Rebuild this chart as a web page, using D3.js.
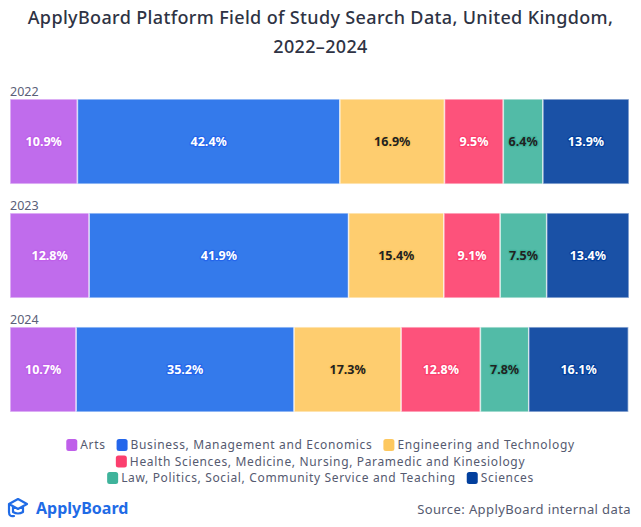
<!DOCTYPE html>
<html><head><meta charset="utf-8">
<script src="https://cdn.jsdelivr.net/npm/d3@7"></script>
<style>
body{margin:0;background:#fff;}
svg{display:block;font-family:"Noto Sans","Open Sans",sans-serif;}
</style></head>
<body><svg id="c" width="641" height="527"></svg>
<script>
const years = ["2022","2023","2024"];
const fields = ["Arts","Business, Management and Economics","Engineering and Technology","Health Sciences, Medicine, Nursing, Paramedic and Kinesiology","Law, Politics, Social, Community Service and Teaching","Sciences"];
const arts =        [10.9, 12.8, 10.7];
const business =    [42.4, 41.9, 35.2];
const engineering = [16.9, 15.4, 17.3];
const health =      [9.5, 9.1, 12.8];
const law =         [6.4, 7.5, 7.8];
const sciences =    [13.9, 13.4, 16.1];
const seriesValues = [arts, business, engineering, health, law, sciences];
const barColors = ["#c06cec","#347aeb","#fecd6f","#fd527b","#52bba7","#1a51a6"];
const legendColors = ["#bf5fea","#2466eb","#fdc85f","#fb3f6e","#3fb39b","#023f9d"];
const labelColors = ["#fff","#fff","#222","#fff","#222","#fff"];

const svg = d3.select("#c");
const W = 641;

[["ApplyBoard Platform Field of Study Search Data, United Kingdom,",24],["2022–2024",53]].forEach(([t,yy])=>{
  svg.append("text").attr("x", W/2).attr("y", yy).attr("text-anchor","middle")
    .attr("font-size",18).attr("font-weight",500).attr("fill","#2e3344")
    .attr("letter-spacing",0.35).text(t);
});

const x = d3.scaleLinear().domain([0,100]).range([10,629]);
const y = d3.scaleBand().domain(years).range([99,412]).paddingInner(0.254).paddingOuter(0);

const rows = years.map((yr,i)=>{
  let acc = 0;
  return seriesValues.map((s,j)=>{ const v=s[i]; const r={yr, j, x0:acc, x1:acc+v, v}; acc+=v; return r;});
});

const g = svg.append("g");
years.forEach((yr,i)=>{
  g.append("text").attr("x",10).attr("y",y(yr)-3).attr("font-size",12.5).attr("fill","#5a6078").text(yr);
  const gg = g.append("g");
  gg.selectAll("rect").data(rows[i]).join("rect")
    .attr("x",d=>x(d.x0)).attr("y",y(yr))
    .attr("width",d=>Math.max(0,x(Math.min(d.x1,100))-x(d.x0)))
    .attr("height",y.bandwidth())
    .attr("fill",d=>barColors[d.j])
    .attr("stroke","rgba(255,255,255,0.6)").attr("stroke-width",1.5);
  gg.selectAll("text.lbl").data(rows[i]).join("text").attr("class","lbl")
    .attr("x",d=>(x(d.x0)+x(Math.min(d.x1,100)))/2)
    .attr("y",y(yr)+y.bandwidth()/2+4.5)
    .attr("text-anchor","middle").attr("font-size",12.5).attr("font-weight",700)
    .attr("fill",d=>labelColors[d.j])
    .attr("stroke",d=>legendColors[d.j]).attr("stroke-width",2.5).attr("stroke-linejoin","round")
    .attr("paint-order","stroke")
    .text(d=>d.v.toFixed(1)+"%");
});

// legend
const legRows = [[0,1,2],[3],[4,5]];
const legY = [449, 465.5, 482];
const lg = svg.append("g").attr("font-size",12).attr("fill","#555a70").attr("letter-spacing",0.65);
legRows.forEach((row,ri)=>{
  const grp = lg.append("g");
  let cx = 0;
  row.forEach((k,ki)=>{
    const it = grp.append("g").attr("transform",`translate(${cx},0)`);
    it.append("rect").attr("x",0).attr("y",legY[ri]-10).attr("width",11).attr("height",12).attr("rx",2.5).attr("fill",legendColors[k]);
    const t = it.append("text").attr("x",14).attr("y",legY[ri]).text(fields[k]);
    cx += 14 + t.node().getComputedTextLength() + 11;
  });
  const wTot = cx - 11;
  grp.attr("transform",`translate(${(W - wTot)/2},0)`);
});

// logo
const logo = svg.append("g").attr("transform","translate(8,498)");
logo.append("path").attr("d","M1,6 L10,1 L19,6 L10,11 Z M5,9 L5,14 Q10,17 15,14 L15,9 M1,6 L1,14 Q1,19 6,18")
  .attr("fill","none").attr("stroke","#1f6be6").attr("stroke-width",2.2).attr("stroke-linejoin","round").attr("stroke-linecap","round");
logo.append("text").attr("x",28).attr("y",16).attr("font-size",16).attr("font-weight",700).attr("fill","#1f6be6").text("ApplyBoard");

svg.append("text").attr("x",631).attr("y",514).attr("text-anchor","end").attr("font-size",13).attr("fill","#555a70")
  .attr("letter-spacing",0.4).text("Source: ApplyBoard internal data");
</script></body></html>
